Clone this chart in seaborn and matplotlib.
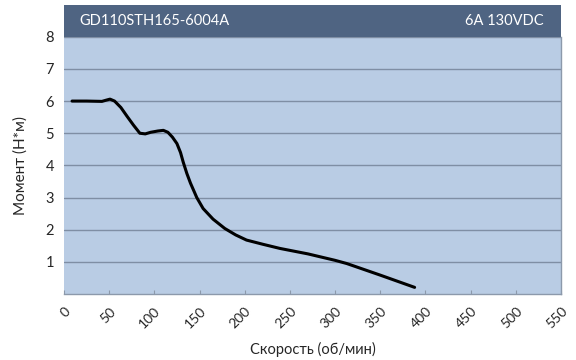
import matplotlib
matplotlib.use("Agg")
import matplotlib.pyplot as plt
import matplotlib.patches as patches
import pandas as pd
import seaborn as sns

# torque curve
speed = [9, 25, 42, 47, 51, 56, 63, 70, 77, 84, 90, 96, 104, 110, 115, 120,
         125, 129, 132, 136, 140, 147, 154, 165, 178, 190, 202, 220, 239, 270,
         300, 313, 350, 388]
torque = [6.0, 6.0, 5.99, 6.03, 6.06, 6.0, 5.8, 5.52, 5.25, 5.0, 4.98, 5.03,
          5.07, 5.09, 5.03, 4.88, 4.68, 4.4, 4.1, 3.75, 3.45, 3.0, 2.66, 2.33,
          2.04, 1.84, 1.68, 1.55, 1.42, 1.25, 1.05, 0.95, 0.59, 0.21]

x_ticks = list(range(0, 551, 50))
y_ticks = [1, 2, 3, 4, 5, 6, 7, 8]

model_name = "GD110STH165-6004A"
rating = "6A 130VDC"

sns.set_style("white")
plt.rcParams["font.family"] = ["Lato", "DejaVu Sans"]

df = pd.DataFrame({"speed": speed, "torque": torque})

fig = plt.figure(figsize=(5.76, 3.6), dpi=100)
ax = fig.add_axes([0.111, 0.183, 0.863, 0.715])
ax.set_facecolor("#b9cce4")

sns.lineplot(data=df, x="speed", y="torque", sort=False, color="black",
             linewidth=2.2, ax=ax, zorder=3)

ax.set_xlim(0, 550)
ax.set_ylim(0, 8)
ax.set_xticks(x_ticks)
ax.set_xticklabels([str(t) for t in x_ticks], rotation=45, ha="right",
                   rotation_mode="anchor", fontsize=10)
ax.set_yticks(y_ticks)
ax.set_yticklabels([str(t) for t in y_ticks], fontsize=10.5)
ax.yaxis.grid(True, color="#7f8ea4", linewidth=1.0)
ax.tick_params(axis="x", direction="in", length=3, color="#8c99ab",
               bottom=True, pad=8)
ax.tick_params(axis="y", length=0, pad=7)

for side in ["top", "left"]:
    ax.spines[side].set_visible(False)
for side in ["bottom", "right"]:
    ax.spines[side].set_color("#8c99ab")
    ax.spines[side].set_linewidth(1.0)

ax.set_xlabel("Скорость (об/мин)", fontsize=10.5, labelpad=8)
ax.set_ylabel("Момент (Н*м)", fontsize=11, labelpad=13)

# dark header band above the plot area
header = patches.Rectangle((0, 1.0), 1.0, 0.123, transform=ax.transAxes,
                           facecolor="#4f6482", edgecolor="none",
                           clip_on=False, zorder=4)
ax.add_patch(header)
ax.text(0.032, 1.062, model_name, transform=ax.transAxes, color="white",
        fontsize=10.5, va="center", ha="left", zorder=5)
ax.text(0.966, 1.062, rating, transform=ax.transAxes, color="white",
        fontsize=10.5, va="center", ha="right", zorder=5)

fig.savefig("out.png", dpi=100)
